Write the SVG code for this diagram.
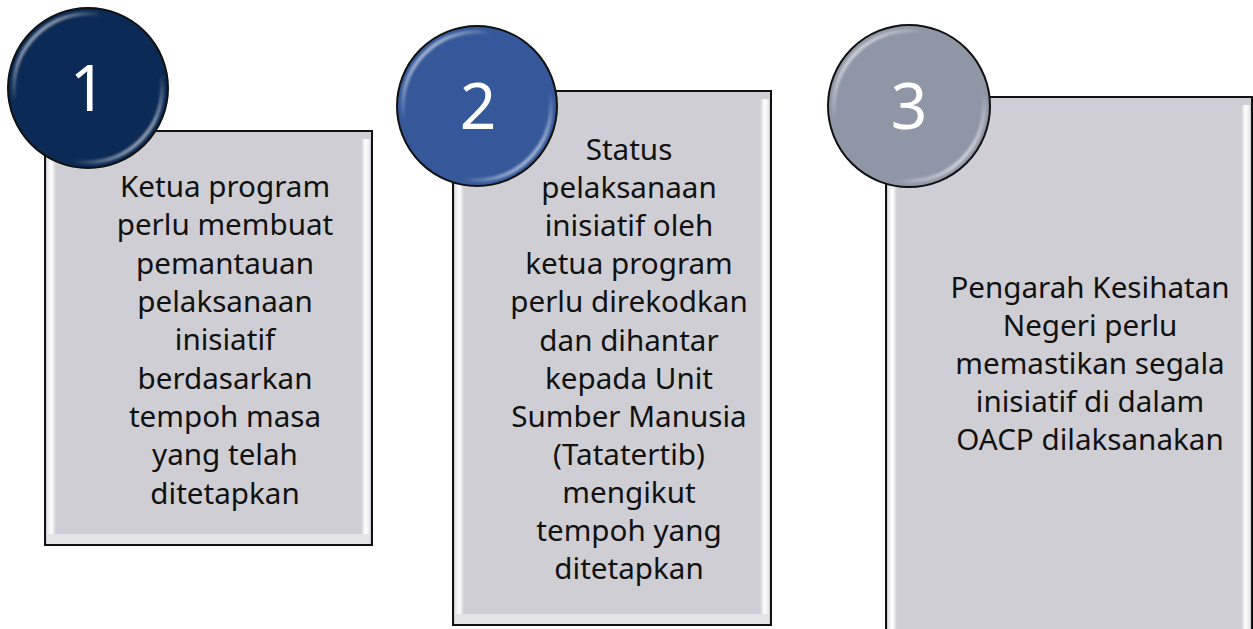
<svg xmlns="http://www.w3.org/2000/svg" width="1253" height="629" viewBox="0 0 1253 629">
<style>
.box{fill:#cfced4;stroke:#111;stroke-width:2}
.txt{font-family:"Noto Sans","Open Sans",sans-serif;font-size:29.6px;fill:#111;text-anchor:middle}
.num{font-family:"Noto Sans","Open Sans",sans-serif;font-size:64px;fill:#fff;text-anchor:middle}
.ring{fill:none;stroke:url(#hl);stroke-width:4}
.circ{stroke:#111;stroke-width:2}
</style>
<defs>
<linearGradient id="hl" x1="0" y1="0" x2="1" y2="1">
<stop offset="0" stop-color="#fff" stop-opacity="1"/>
<stop offset="0.3" stop-color="#fff" stop-opacity="0"/>
<stop offset="0.7" stop-color="#fff" stop-opacity="0"/>
<stop offset="1" stop-color="#fff" stop-opacity="1"/>
</linearGradient>
<linearGradient id="bl" x1="0" y1="0" x2="1" y2="0">
<stop offset="0" stop-color="#e6e6ea"/>
<stop offset="0.5" stop-color="#fff"/>
<stop offset="1" stop-color="#cfced4"/>
</linearGradient>
<linearGradient id="br" x1="0" y1="0" x2="1" y2="0">
<stop offset="0" stop-color="#cfced4"/>
<stop offset="0.5" stop-color="#fff"/>
<stop offset="1" stop-color="#e6e6ea"/>
</linearGradient>
<filter id="sh" x="-20%" y="-20%" width="140%" height="140%"><feGaussianBlur stdDeviation="0.8"/></filter>
</defs>

<g id="node1">
<rect class="box" x="45" y="131" width="327" height="414"/>
<rect x="47" y="139" width="9" height="398" fill="url(#bl)"/>
<rect x="361" y="139" width="9" height="398" fill="url(#br)"/>
<rect x="47" y="534" width="323" height="10" fill="#e4e4e8"/>
<text class="txt" x="225" y="197">Ketua program</text>
<text class="txt" x="225" y="235.3">perlu membuat</text>
<text class="txt" x="225" y="273.6">pemantauan</text>
<text class="txt" x="225" y="312">pelaksanaan</text>
<text class="txt" x="225" y="350">inisiatif</text>
<text class="txt" x="225" y="388.5">berdasarkan</text>
<text class="txt" x="225" y="427">tempoh masa</text>
<text class="txt" x="225" y="465">yang telah</text>
<text class="txt" x="225" y="503.5">ditetapkan</text>
<circle class="circ" cx="88" cy="88" r="80" fill="#0b2a55"/>
<circle class="ring" cx="88" cy="88" r="74" filter="url(#sh)"/>
<text class="num" x="88" y="111">1</text>
</g>

<g id="node2">
<rect class="box" x="453" y="91" width="318" height="534"/>
<rect x="455" y="99" width="9" height="518" fill="url(#bl)"/>
<rect x="760" y="99" width="9" height="518" fill="url(#br)"/>
<rect x="455" y="614" width="314" height="10" fill="#e4e4e8"/>
<text class="txt" x="629" y="160">Status</text>
<text class="txt" x="629" y="198.1">pelaksanaan</text>
<text class="txt" x="629" y="236.2">inisiatif oleh</text>
<text class="txt" x="629" y="274.3">ketua program</text>
<text class="txt" x="629" y="312.4">perlu direkodkan</text>
<text class="txt" x="629" y="350.5">dan dihantar</text>
<text class="txt" x="629" y="388.6">kepada Unit</text>
<text class="txt" x="629" y="426.7">Sumber Manusia</text>
<text class="txt" x="629" y="464.8">(Tatatertib)</text>
<text class="txt" x="629" y="502.9">mengikut</text>
<text class="txt" x="629" y="541">tempoh yang</text>
<text class="txt" x="629" y="579">ditetapkan</text>
<circle class="circ" cx="477" cy="106" r="80" fill="#34589a"/>
<circle class="ring" cx="477" cy="106" r="74" filter="url(#sh)"/>
<text class="num" x="478" y="129">2</text>
</g>

<g id="node3">
<rect class="box" x="886" y="97" width="366" height="540"/>
<rect x="888" y="105" width="9" height="530" fill="url(#bl)"/>
<rect x="1241" y="105" width="9" height="530" fill="url(#br)"/>
<text class="txt" x="1090" y="298">Pengarah Kesihatan</text>
<text class="txt" x="1090" y="336">Negeri perlu</text>
<text class="txt" x="1090" y="374">memastikan segala</text>
<text class="txt" x="1090" y="412">inisiatif di dalam</text>
<text class="txt" x="1090" y="450">OACP dilaksanakan</text>
<circle class="circ" cx="909" cy="106" r="81" fill="#8f96a6"/>
<circle class="ring" cx="909" cy="106" r="75" filter="url(#sh)"/>
<text class="num" x="909" y="129">3</text>
</g>

<g id="connectors"></g>
</svg>
